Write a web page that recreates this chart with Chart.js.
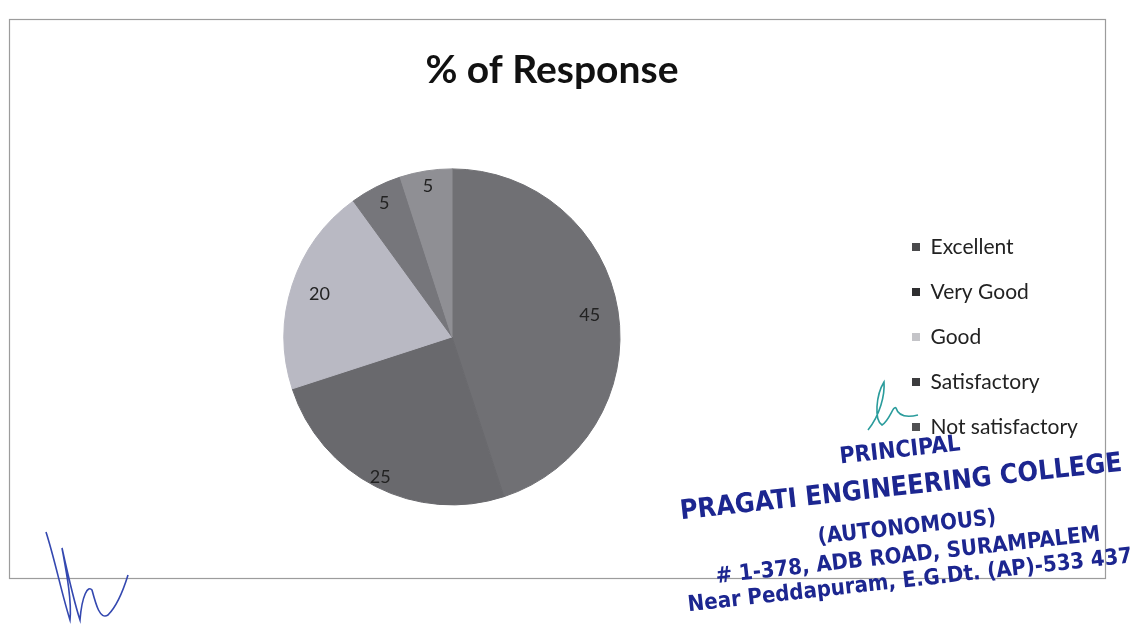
<!DOCTYPE html>
<html><head><meta charset="utf-8">
<script src="https://cdn.jsdelivr.net/npm/chart.js@4.4.1/dist/chart.umd.min.js"></script>
<style>html,body{margin:0;padding:0;background:#fff;overflow:hidden}#wrap{position:relative;width:1133px;height:624px}</style>
</head><body><div id="wrap"><canvas id="c" width="1133" height="624"></canvas></div>
<script>
const chartTitle = '% of Response';
const categories = ['Excellent', 'Very Good', 'Good', 'Satisfactory', 'Not satisfactory'];
const responsePercent = [45, 25, 20, 5, 5];
const sliceColors = ['#707074', '#69696d', '#b9b9c3', '#76767b', '#8f8f94'];
const legendColors = ['#4a4a4c', '#2e2e30', '#c4c4c8', '#3c3c3e', '#505052'];
const stampLines = ['PRINCIPAL', 'PRAGATI ENGINEERING COLLEGE', '(AUTONOMOUS)', '# 1-378, ADB ROAD, SURAMPALEM', 'Near Peddapuram, E.G.Dt. (AP)-533 437'];

const W = 1133, H = 624;
const LEG_SIZE = 21, LEG_FAMILY = 'Lato', LEG_PAD = 24, BOX = 8, BOX_X = 912;
const mctx = document.createElement('canvas').getContext('2d');
mctx.font = LEG_SIZE + 'px ' + LEG_FAMILY;
const W0 = Math.max(...categories.map(t => mctx.measureText(t).width)) + BOX + LEG_SIZE / 2;
const padR = W - BOX_X - W0 - 10;
const legendLeft = BOX_X - LEG_PAD;
const pieCx = 452;
const padL = 2 * pieCx - legendLeft;

const decor = {
  id: 'decor',
  beforeDraw(chart) {
    const ctx = chart.ctx;
    ctx.save();
    ctx.fillStyle = '#fff';
    ctx.fillRect(0, 0, W, H);
    ctx.strokeStyle = '#9c9c9c';
    ctx.lineWidth = 1.2;
    ctx.strokeRect(9.5, 19.5, 1096, 559);
    ctx.restore();
  },
  afterDraw(chart) {
    const ctx = chart.ctx;
    ctx.save();
    const specs = [
      {x: 900, y: 451, size: 23, w: 130},
      {x: 901, y: 488, size: 27, w: 456},
      {x: 907, y: 528, size: 22, w: 180},
      {x: 908, y: 556, size: 22, w: 389},
      {x: 910, y: 581, size: 22, w: 447}
    ];
    ctx.fillStyle = '#1c2690';
    ctx.textAlign = 'center';
    ctx.textBaseline = 'middle';
    stampLines.forEach((t, i) => {
      const s = specs[i];
      ctx.save();
      ctx.translate(s.x, s.y);
      ctx.rotate(-6.3 * Math.PI / 180);
      ctx.font = 'bold ' + s.size + 'px "DejaVu Sans Condensed", "DejaVu Sans"';
      ctx.fillText(t, 0, 0, s.w);
      ctx.restore();
    });
    ctx.strokeStyle = '#2a9c9c';
    ctx.lineWidth = 1.6;
    ctx.beginPath();
    ctx.moveTo(868, 430);
    ctx.bezierCurveTo(880, 415, 885, 395, 884, 382);
    ctx.bezierCurveTo(876, 395, 874, 420, 882, 425);
    ctx.bezierCurveTo(890, 420, 893, 405, 896, 408);
    ctx.bezierCurveTo(898, 415, 905, 418, 918, 415);
    ctx.stroke();
    ctx.strokeStyle = '#3448b0';
    ctx.lineWidth = 1.6;
    ctx.beginPath();
    ctx.moveTo(46, 532);
    ctx.bezierCurveTo(55, 560, 62, 595, 70, 620);
    ctx.bezierCurveTo(72, 600, 66, 570, 62, 548);
    ctx.bezierCurveTo(68, 575, 75, 605, 80, 620);
    ctx.bezierCurveTo(82, 595, 88, 585, 92, 590);
    ctx.bezierCurveTo(96, 605, 100, 620, 108, 615);
    ctx.bezierCurveTo(118, 605, 124, 588, 128, 575);
    ctx.stroke();
    ctx.restore();
  }
};

const valueLabels = {
  id: 'valueLabels',
  afterDatasetsDraw(chart, args, opts) {
    const ctx = chart.ctx;
    const meta = chart.getDatasetMeta(0);
    const vals = chart.data.datasets[0].data;
    ctx.save();
    ctx.font = '18px Lato';
    ctx.fillStyle = '#222';
    ctx.textAlign = 'center';
    ctx.textBaseline = 'middle';
    meta.data.forEach((arc, i) => {
      const p = arc.getProps(['x', 'y', 'startAngle', 'endAngle', 'outerRadius'], true);
      const mid = (p.startAngle + p.endAngle) / 2;
      const r = p.outerRadius * opts.radial[i];
      ctx.fillText(String(vals[i]), p.x + Math.cos(mid) * r, p.y + Math.sin(mid) * r);
    });
    ctx.restore();
  }
};

new Chart(document.getElementById('c'), {
  type: 'pie',
  data: {
    labels: categories,
    datasets: [{
      data: responsePercent,
      backgroundColor: sliceColors,
      borderColor: sliceColors,
      borderWidth: 1,
      radius: 168
    }]
  },
  options: {
    responsive: false,
    animation: false,
    devicePixelRatio: 1,
    layout: {padding: {left: padL, right: padR, top: 30, bottom: 70}},
    plugins: {
      title: {
        display: true,
        text: chartTitle,
        color: '#111',
        font: {family: 'Lato', size: 39, weight: 'bold'},
        padding: {top: 17, bottom: 26}
      },
      legend: {
        position: 'right',
        align: 'center',
        fullSize: false,
        labels: {
          boxWidth: BOX,
          boxHeight: BOX,
          padding: LEG_PAD,
          color: '#222',
          font: {family: LEG_FAMILY, size: LEG_SIZE},
          generateLabels(chart) {
            return chart.data.labels.map((t, i) => ({
              text: t, fillStyle: legendColors[i], strokeStyle: legendColors[i],
              lineWidth: 0, hidden: false, index: i, fontColor: '#222'
            }));
          }
        }
      },
      tooltip: {enabled: false},
      valueLabels: {radial: [0.83, 0.94, 0.83, 0.89, 0.91]}
    }
  },
  plugins: [decor, valueLabels]
});
</script>
</body></html>
